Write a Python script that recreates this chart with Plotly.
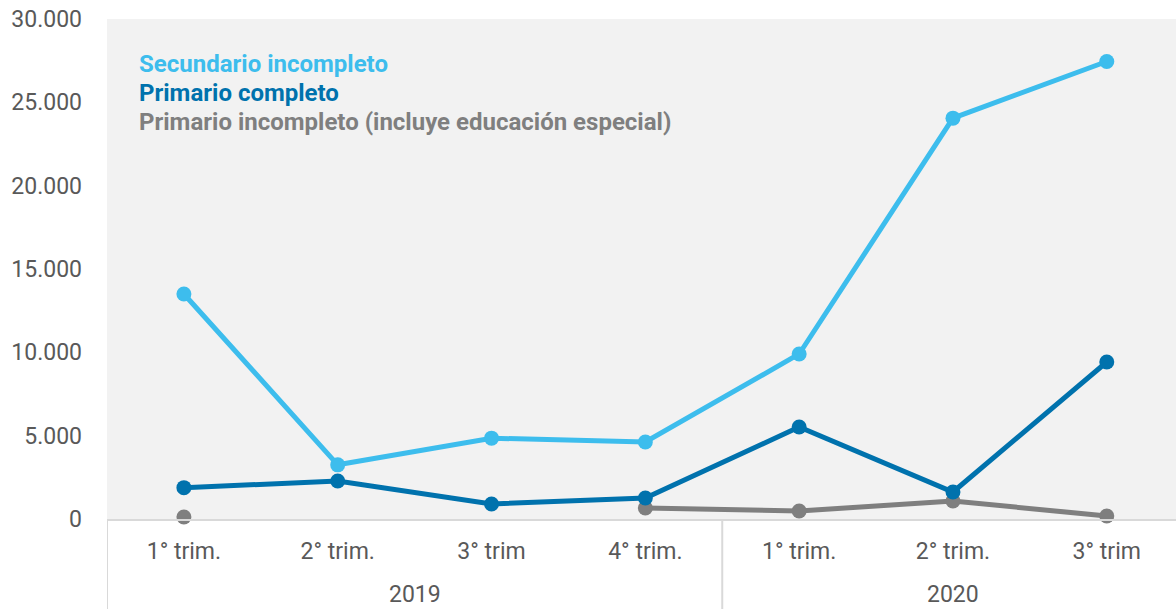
import plotly.graph_objects as go

# Periods: quarter labels on the axis, years grouped underneath
quarters = ["1° trim.", "2° trim.", "3° trim", "4° trim.", "1° trim.", "2° trim.", "3° trim"]
year_labels = ["2019", "2020"]
year_spans = [(0, 3), (4, 6)]  # first and last quarter index of each year
x_idx = list(range(len(quarters)))

# Series values
secundario_incompleto = [13500, 3250, 4850, 4620, 9900, 24050, 27450]
primario_completo = [1880, 2280, 900, 1260, 5520, 1620, 9420]
primario_incompleto = [120, None, None, 660, 480, 1080, 180]

series = [
    ("Primario incompleto (incluye educación especial)", primario_incompleto, "#7F7F7F"),
    ("Primario completo", primario_completo, "#0072AD"),
    ("Secundario incompleto", secundario_incompleto, "#3DBDED"),
]

FONT = "Roboto"
TXT = "#595959"
DIV = "#D9D9D9"

fig = go.Figure()
for name, vals, color in series:
    fig.add_trace(go.Scatter(
        x=x_idx, y=vals, name=name, mode="lines+markers",
        line=dict(color=color, width=5), marker=dict(color=color, size=15),
        connectgaps=False, showlegend=False, cliponaxis=False,
    ))

# Colored label block in place of a legend
label_order = [series[2], series[1], series[0]]
for i, (name, _, color) in enumerate(label_order):
    fig.add_annotation(
        xref="paper", yref="paper", x=0.028, y=0.91 - i * 0.058,
        xanchor="left", yanchor="middle", showarrow=False,
        text=f"<b>{name}</b>", font=dict(family=FONT, size=24, color=color),
    )

# Year group labels and dividers below the axis
for label, (a, b) in zip(year_labels, year_spans):
    fig.add_annotation(
        xref="x", yref="paper", x=(a + b) / 2, y=-0.15,
        xanchor="center", yanchor="middle", showarrow=False, borderpad=0,
        text=label, font=dict(family=FONT, size=23, color=TXT),
    )
    fig.add_shape(
        type="line", xref="x", yref="paper", x0=a - 0.5, x1=a - 0.5, y0=0, y1=-0.2,
        line=dict(color=DIV, width=2),
    )

fig.update_layout(
    width=1176, height=609,
    margin=dict(l=107, r=0, t=19, b=90),
    paper_bgcolor="white", plot_bgcolor="#F2F2F2",
    separators=",.",
    font=dict(family=FONT, size=23, color=TXT),
)
fig.update_xaxes(
    range=[-0.5, 6.45], tickmode="array", tickvals=x_idx, ticktext=quarters,
    showgrid=False, zeroline=False, showline=True, linecolor=DIV, linewidth=2,
    ticks="", ticklabelstandoff=10,
    tickfont=dict(family=FONT, size=23, color=TXT),
)
fig.update_yaxes(
    range=[0, 30000], dtick=5000, tickformat=",d", showgrid=False, zeroline=False,
    ticks="", ticklabelstandoff=24,
    tickfont=dict(family=FONT, size=23, color=TXT),
)

fig.write_html("out.html")
